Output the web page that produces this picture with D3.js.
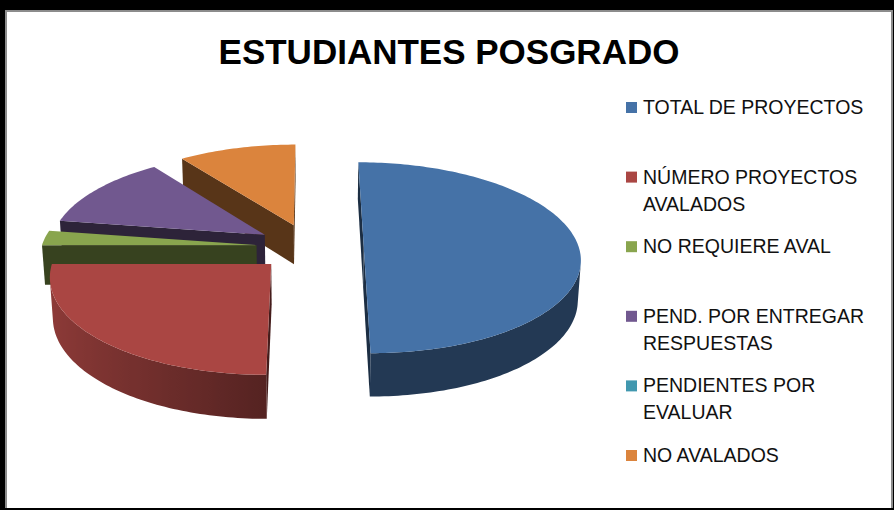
<!DOCTYPE html>
<html>
<head>
<meta charset="utf-8">
<script src="https://cdn.jsdelivr.net/npm/d3@7"></script>
<style>
  html, body { margin: 0; padding: 0; background: #fff; }
  svg { display: block; }
</style>
</head>
<body>
<svg class="pie-chart" width="894" height="510"></svg>
<script>
// data
const categories = ['TOTAL DE PROYECTOS', 'NÚMERO PROYECTOS AVALADOS', 'NO REQUIERE AVAL', 'PEND. POR ENTREGAR RESPUESTAS', 'PENDIENTES POR EVALUAR', 'NO AVALADOS'];
const legendLines = [['TOTAL DE PROYECTOS'], ['NÚMERO PROYECTOS', 'AVALADOS'], ['NO REQUIERE AVAL'], ['PEND. POR ENTREGAR', 'RESPUESTAS'], ['PENDIENTES POR', 'EVALUAR'], ['NO AVALADOS']];
const values = [40, 20, 2, 10, 0, 8];
const colors = ['#4572A7', '#AA4643', '#89A54E', '#71588F', '#4198AF', '#DB843D'];
const title = 'ESTUDIANTES POSGRADO';

const chart = d3.select('.pie-chart');
const defs = chart.append('defs');

/*
 ** Frame
 */
chart.append('rect').attr('width', 894).attr('height', 510).attr('fill', '#000');
chart.append('rect').attr('x', 5).attr('y', 10).attr('width', 888).attr('height', 498).attr('fill', '#8c8c8c');
chart.append('rect').attr('x', 7).attr('y', 12).attr('width', 884).attr('height', 496).attr('fill', '#fff');

chart.append('text')
  .text(title)
  .attr('x', 449)
  .attr('y', 64)
  .attr('text-anchor', 'middle')
  .attr('font-family', 'Liberation Sans, Arial, sans-serif')
  .attr('font-weight', 'bold')
  .attr('font-size', 35)
  .attr('fill', '#000');

/*
 ** 3D pie: slices lie on a plane, seen from above with some perspective
 */
const phi = 26 * Math.PI / 180;
const camDist = 8;
const focal = 1720;
const cx = 310;
const cy = 247;
const depth = 0.208;
const explode = 0.25;

const project = (x, y, z) => {
  const yc = y * Math.cos(phi) + z * Math.sin(phi);
  const zc = camDist + z * Math.cos(phi) - y * Math.sin(phi);
  return [cx + focal * x / zc, cy - focal * yc / zc, zc];
};
const camPos = [0, camDist * Math.sin(phi), -camDist * Math.cos(phi)];

function shade(c, k) {
  const col = d3.rgb(c);
  return d3.rgb(col.r * k, col.g * k, col.b * k).toString();
}

const pie = d3.pie().sort(null).value(d => d);
const arcs = pie(values);

const walls = [];
const tops = [];

arcs.forEach((d, i) => {
  if (d.endAngle - d.startAngle <= 0) return;
  const color = colors[i];
  const mid = (d.startAngle + d.endAngle) / 2;
  const ox = explode * Math.sin(mid);
  const oz = explode * Math.cos(mid);
  const pt = (a, y, r = 1) => project(ox + r * Math.sin(a), y, oz + r * Math.cos(a));
  const n = Math.max(2, Math.ceil((d.endAngle - d.startAngle) / 0.02));
  const angles = d3.range(n + 1).map(k => d.startAngle + (d.endAngle - d.startAngle) * k / n);

  // visible when the outward normal looks at the camera
  const faces = (nx, nz, px, pz) => nx * (camPos[0] - px) + nz * (camPos[2] - pz) > 0;

  // outer wall: the visible run of the arc, one polygon with a gradient
  const vis = angles.filter(a => faces(Math.sin(a), Math.cos(a), ox + Math.sin(a), oz + Math.cos(a)));
  if (vis.length > 1) {
    const topPts = vis.map(a => pt(a, 0));
    const botPts = vis.map(a => pt(a, -depth)).reverse();
    const xs = topPts.map(p => p[0]);
    const x0 = d3.min(xs), x1 = d3.max(xs);
    const gid = 'wall-' + i;
    const stops = vis.map((a, k) => ({
      offset: (xs[k] - x0) / Math.max(1, x1 - x0),
      color: shade(color, 0.5 + 0.34 * Math.max(0, -Math.sin(a)))
    })).sort((a, b) => a.offset - b.offset);
    const grad = defs.append('linearGradient')
      .attr('id', gid)
      .attr('gradientUnits', 'userSpaceOnUse')
      .attr('x1', x0).attr('x2', x1).attr('y1', 0).attr('y2', 0);
    grad.selectAll('stop')
      .data(stops)
      .enter()
      .append('stop')
      .attr('offset', s => s.offset)
      .attr('stop-color', s => s.color);
    const p = topPts.concat(botPts);
    walls.push({ pts: p, z: d3.mean(p, q => q[2]), fill: `url(#${gid})` });
  }

  // radial walls
  [[d.startAngle, -1], [d.endAngle, 1]].forEach(([a, s]) => {
    const nx = s * Math.cos(a), nz = -s * Math.sin(a);
    const px = ox + 0.5 * Math.sin(a), pz = oz + 0.5 * Math.cos(a);
    if (!faces(nx, nz, px, pz)) return;
    const p = [pt(a, 0, 0), pt(a, 0), pt(a, -depth), pt(a, -depth, 0)];
    walls.push({ pts: p, z: d3.mean(p, q => q[2]) + 0.02, fill: shade(color, 0.4) });
  });

  tops.push({ pts: [pt(0, 0, 0)].concat(angles.map(a => pt(a, 0))), fill: color });
});

const line = d3.line().x(p => p[0]).y(p => p[1]);
const pieGroup = chart.append('g');

walls.sort((a, b) => b.z - a.z);
pieGroup.selectAll('path.wall')
  .data(walls)
  .enter()
  .append('path')
  .attr('class', 'wall')
  .attr('d', d => line(d.pts) + 'Z')
  .attr('fill', d => d.fill);

pieGroup.selectAll('path.top')
  .data(tops)
  .enter()
  .append('path')
  .attr('class', 'top')
  .attr('d', d => line(d.pts) + 'Z')
  .attr('fill', d => d.fill);

/*
 ** Legend
 */
const legendY = d3.scalePoint()
  .domain(categories)
  .range([114, 462]);

const legend = chart.append('g')
  .selectAll('g.legend-item')
  .data(categories)
  .enter()
  .append('g')
  .attr('class', 'legend-item')
  .attr('transform', d => `translate(626, ${legendY(d)})`);

legend.append('rect')
  .attr('y', -12)
  .attr('width', 11)
  .attr('height', 11)
  .attr('fill', (d, i) => colors[i]);

legend.append('text')
  .attr('font-family', 'Liberation Sans, Arial, sans-serif')
  .attr('font-size', 19.5)
  .attr('fill', '#111')
  .selectAll('tspan')
  .data((d, i) => legendLines[i])
  .enter()
  .append('tspan')
  .attr('x', 17)
  .attr('y', (d, i) => i * 27)
  .text(d => d);
</script>
</body>
</html>
